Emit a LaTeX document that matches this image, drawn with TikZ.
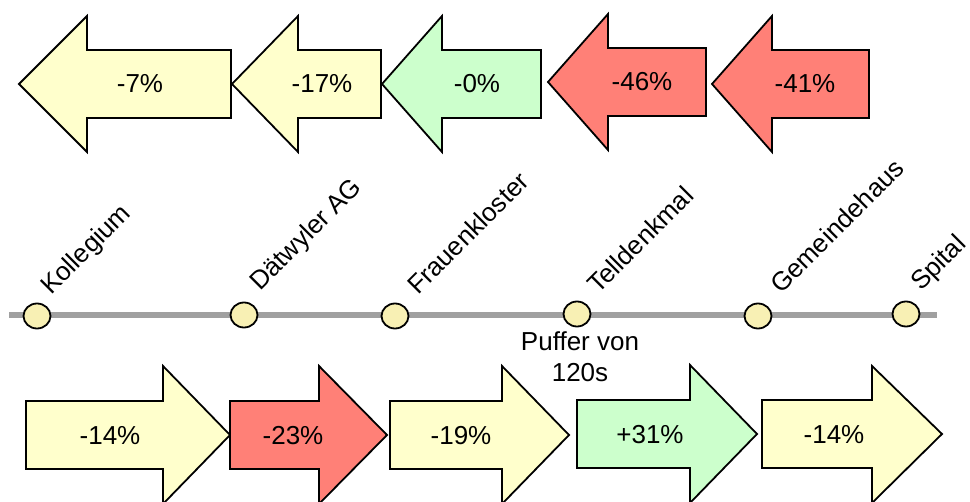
\documentclass[tikz,border=0pt]{standalone}
\usepackage{fontspec}
\setmainfont{Liberation Sans}
\usetikzlibrary{shapes.geometric}
\definecolor{arY}{HTML}{FFFFCC}
\definecolor{arG}{HTML}{CCFFCC}
\definecolor{arR}{HTML}{FF8077}
\definecolor{stY}{HTML}{F8F0B4}
\definecolor{lineG}{HTML}{A0A0A0}
\tikzset{
  arrowbox/.style={draw=black, line width=1.8pt, line join=miter},
  pct/.style={font=\fontsize{26}{31}\selectfont, inner sep=0pt},
  station/.style={ellipse, draw=black, line width=1.8pt, fill=stY, minimum width=27pt, minimum height=25pt, inner sep=0pt},
  stlabel/.style={font=\fontsize{26}{31}\selectfont, rotate=45, anchor=base west, inner sep=0pt},
  track/.style={draw=lineG, line width=6pt}
}
\begin{document}
\begin{tikzpicture}[x=1pt,y=-1pt]
\useasboundingbox (0,0) rectangle (970,502);
% top row (leftward)
\draw[arrowbox, fill=arY] (19,84) -- (87,16) -- (87,50) -- (231,50) -- (231,118) -- (87,118) -- (87,152) -- cycle;
\draw[arrowbox, fill=arY] (232,84) -- (298,16) -- (298,50) -- (381,50) -- (381,118) -- (298,118) -- (298,152) -- cycle;
\draw[arrowbox, fill=arG] (382,84) -- (442,16) -- (442,50) -- (541,50) -- (541,118) -- (442,118) -- (442,152) -- cycle;
\draw[arrowbox, fill=arR] (548,82) -- (608,14) -- (608,48) -- (706,48) -- (706,116) -- (608,116) -- (608,150) -- cycle;
\draw[arrowbox, fill=arR] (712,84) -- (772,16) -- (772,50) -- (869,50) -- (869,118) -- (772,118) -- (772,152) -- cycle;
\node[pct] (t1) at (140,84) {-7\%};
\node[pct] (t2) at (322,84) {-17\%};
\node[pct] (t3) at (477,84) {-0\%};
\node[pct] (t4) at (642,82) {-46\%};
\node[pct] (t5) at (805,84) {-41\%};
% track
\coordinate (trL) at (9,315);
\coordinate (trR) at (937,315);
\draw[track] (trL) -- (trR);
\node[station] (s1) at (37,316) {};
\node[station] (s2) at (244,315) {};
\node[station] (s3) at (395,316) {};
\node[station] (s4) at (577,314) {};
\node[station] (s5) at (758,316) {};
\node[station] (s6) at (906,314) {};
\node[stlabel] (l1) at (51,296) {Kollegium};
\node[stlabel] (l2) at (260,292) {Dätwyler AG};
\node[stlabel] (l3) at (418,296) {Frauenkloster};
\node[stlabel] (l4) at (598,295) {Telldenkmal};
\node[stlabel] (l5) at (781,295) {Gemeindehaus};
\node[stlabel] (l6) at (921,292) {Spital};
\node[pct, align=center, anchor=north] (buf) at (580,331) {Puffer von\\120s};
% bottom row (rightward)
\draw[arrowbox, fill=arY] (26,401) -- (163,401) -- (163,366) -- (230,435) -- (163,504) -- (163,469) -- (26,469) -- cycle;
\draw[arrowbox, fill=arR] (230,401) -- (319,401) -- (319,366) -- (387,435) -- (319,504) -- (319,469) -- (230,469) -- cycle;
\draw[arrowbox, fill=arY] (390,401) -- (502,401) -- (502,366) -- (569,435) -- (502,504) -- (502,469) -- (390,469) -- cycle;
\draw[arrowbox, fill=arG] (577,400) -- (690,400) -- (690,365) -- (757,434) -- (690,503) -- (690,468) -- (577,468) -- cycle;
\draw[arrowbox, fill=arY] (762,400) -- (872,400) -- (872,366) -- (942,434) -- (872,503) -- (872,468) -- (762,468) -- cycle;
\node[pct] (b1) at (110,436) {-14\%};
\node[pct] (b2) at (293,436) {-23\%};
\node[pct] (b3) at (461,436) {-19\%};
\node[pct] (b4) at (650,435) {+31\%};
\node[pct] (b5) at (834,435) {-14\%};
\end{tikzpicture}
\end{document}
